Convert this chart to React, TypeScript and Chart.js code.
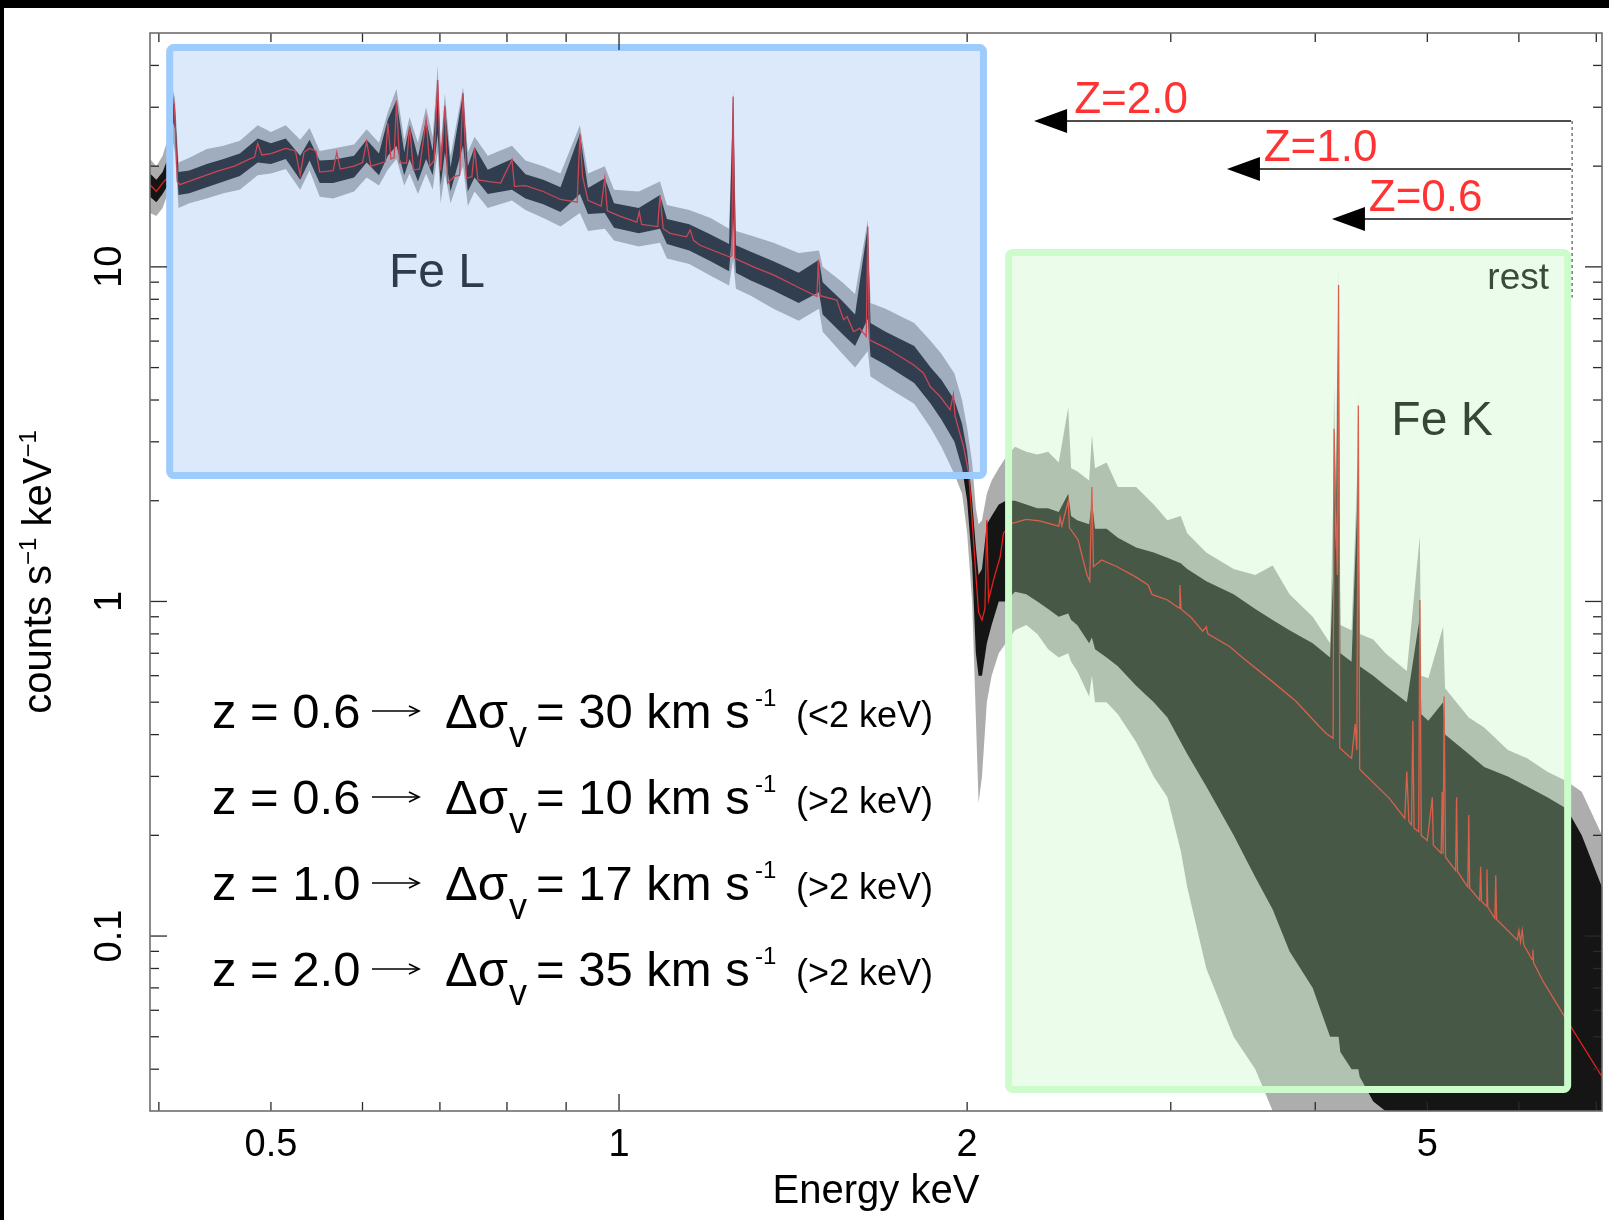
import React, { useEffect, useRef } from "react";
import { Chart, registerables } from "chart.js";

Chart.register(...registerables);

const FONT = '"Liberation Sans", Arial, Helvetica, sans-serif';

// ---------- axis ranges ----------
const xRange = [0.393, 7.08];
const yRange = [0.03, 50];

// ---------- model (red curve), energy keV / counts s^-1 keV^-1 ----------
const modelE = [
  0.393, 0.398, 0.403, 0.407, 0.41, 0.4125, 0.415, 0.417, 0.43, 0.449,
  0.465, 0.479, 0.484, 0.487, 0.491, 0.5, 0.515, 0.525, 0.53, 0.534,
  0.54, 0.547, 0.551, 0.566, 0.57, 0.574, 0.59, 0.6, 0.605, 0.61,
  0.628, 0.631, 0.635, 0.639, 0.642, 0.646, 0.655, 0.659, 0.664, 0.672,
  0.681, 0.686, 0.692, 0.697, 0.701, 0.707, 0.711, 0.72, 0.728, 0.733,
  0.738, 0.746, 0.75, 0.755, 0.77, 0.79, 0.808, 0.812, 0.83, 0.86,
  0.89, 0.92, 0.925, 0.93, 0.94, 0.965, 0.972, 0.977, 1.0, 1.036,
  1.041, 1.046, 1.08, 1.085, 1.092, 1.107, 1.144, 1.152, 1.16, 1.175,
  1.247, 1.252, 1.255, 1.259, 1.307, 1.36, 1.434, 1.483, 1.487, 1.492,
  1.543, 1.556, 1.564, 1.575, 1.595, 1.615, 1.636, 1.641, 1.646, 1.704,
  1.797, 1.834, 1.858, 1.896, 1.933, 1.946, 1.952, 1.96, 1.986, 2.006,
  2.02, 2.035, 2.046, 2.06, 2.072, 2.08, 2.087, 2.108, 2.136, 2.15,
  2.186, 2.21, 2.25, 2.31, 2.4, 2.407, 2.415, 2.446, 2.452, 2.494,
  2.539, 2.553, 2.564, 2.572, 2.614, 2.696, 2.802, 2.868, 2.89, 2.98,
  3.05, 3.055, 3.062, 3.124, 3.197, 3.22, 3.23, 3.375, 3.454, 3.675,
  3.849, 4.033, 4.096, 4.145, 4.153, 4.165, 4.18, 4.19, 4.2, 4.273,
  4.3, 4.331, 4.345, 4.358, 4.37, 4.636, 4.78, 4.8, 4.82, 4.845,
  4.858, 4.87, 4.915, 4.926, 4.94, 5.0, 5.05, 5.06, 5.14, 5.15,
  5.16, 5.17, 5.185, 5.29, 5.3, 5.31, 5.42, 5.43, 5.44, 5.55,
  5.56, 5.57, 5.62, 5.63, 5.64, 5.72, 5.73, 5.74, 5.98, 6.0,
  6.02, 6.04, 6.06, 6.16, 6.17, 6.18, 6.3, 6.56, 7.08,
];
const modelCounts = [
  17.6, 16.8, 17.8, 18.5, 33.8, 30.5, 18.0, 17.6, 18.3, 19.3,
  20.0, 21.0, 21.3, 23.4, 21.6, 21.8, 22.6, 22.2, 18.8, 22.0,
  22.6, 22.2, 19.2, 19.4, 22.0, 19.6, 20.0, 20.5, 23.7, 20.0,
  20.6, 26.9, 21.0, 21.2, 31.4, 20.5, 20.4, 26.3, 19.5, 19.6,
  27.5, 20.0, 20.8, 36.2, 19.4, 30.2, 17.8, 18.6, 18.8, 33.1,
  18.4, 18.6, 22.6, 18.2, 18.0, 17.8, 20.9, 17.4, 17.5, 16.8,
  15.9, 15.6, 25.0, 18.6, 15.8, 15.2, 18.4, 14.7, 14.2, 13.6,
  14.6, 13.4, 13.2, 16.4, 13.0, 12.6, 12.3, 12.9, 12.0, 11.6,
  10.7, 10.8, 32.3, 10.6, 10.0, 9.46, 8.63, 8.15, 10.5, 8.2,
  7.96, 7.3, 6.95, 7.1, 6.41, 6.55, 6.2, 13.2, 6.05, 5.71,
  5.1, 4.81, 4.39, 4.09, 3.74, 4.16, 3.6, 3.41, 2.9, 2.42,
  1.75, 1.2, 0.93, 0.88, 0.95, 1.75, 1.01, 1.16, 1.36, 1.6,
  1.71, 1.73, 1.76, 1.74, 1.68, 1.78, 1.68, 2.0, 1.66, 1.53,
  1.2, 1.15, 2.2, 1.27, 1.33, 1.27, 1.18, 1.12, 1.05, 1.01,
  0.956, 1.12, 0.95, 0.895, 0.815, 0.84, 0.8, 0.732, 0.684, 0.575,
  0.503, 0.423, 0.401, 0.39, 3.28, 2.0, 1.2, 8.83, 0.365, 0.346,
  0.34, 0.43, 0.36, 3.85, 0.315, 0.258, 0.225, 0.31, 0.22, 0.215,
  0.44, 0.21, 0.205, 1.01, 0.2, 0.193, 0.26, 0.187, 0.177, 0.27,
  0.176, 0.52, 0.172, 0.157, 0.26, 0.156, 0.14, 0.23, 0.139, 0.128,
  0.161, 0.127, 0.123, 0.158, 0.122, 0.113, 0.152, 0.112, 0.0973, 0.104,
  0.096, 0.104, 0.094, 0.085, 0.091, 0.083, 0.073, 0.058, 0.038,
];

// ---------- observed spectrum, read as envelopes of the noisy trace ----------
const dataE = [
  0.393, 0.398, 0.403, 0.407, 0.41, 0.413, 0.416, 0.425, 0.44, 0.455,
  0.47, 0.487, 0.5, 0.515, 0.53, 0.54, 0.551, 0.566, 0.59, 0.605,
  0.62, 0.631, 0.642, 0.652, 0.659, 0.67, 0.681, 0.69, 0.697, 0.701,
  0.707, 0.715, 0.733, 0.74, 0.75, 0.77, 0.808, 0.83, 0.86, 0.89,
  0.925, 0.94, 0.972, 0.99, 1.04, 1.085, 1.1, 1.15, 1.2, 1.245,
  1.255, 1.262, 1.3, 1.36, 1.43, 1.489, 1.5, 1.56, 1.6, 1.641,
  1.65, 1.7, 1.8, 1.86, 1.9, 1.95, 1.98, 2.0, 2.02, 2.035,
  2.046, 2.06, 2.08, 2.1, 2.13, 2.16,
  2.2, 2.25, 2.3, 2.35, 2.4, 2.446, 2.46, 2.49, 2.55, 2.564,
  2.58, 2.64, 2.7, 2.8, 2.9, 2.98, 3.06, 3.1, 3.22, 3.4,
  3.55, 3.675, 3.8, 3.98, 4.12, 4.145, 4.153, 4.165, 4.19, 4.205,
  4.3, 4.35, 4.358, 4.37, 4.49, 4.6, 4.8, 4.926, 4.94, 5.01,
  5.16, 5.18, 5.43, 5.6, 5.87, 6.1, 6.35, 6.6, 6.8, 7.08,
];
const dataOuterLo = [
  14.5, 14.2, 15.0, 16.5, 25.0, 22.0, 15.0, 15.5, 16.0, 16.6,
  17.0, 18.8, 19.0, 19.6, 17.0, 19.4, 16.2, 16.0, 16.8, 18.5,
  17.5, 19.5, 21.0, 17.5, 19.0, 16.5, 19.0, 17.0, 22.0, 15.5,
  19.0, 15.5, 20.0, 15.2, 16.8, 15.0, 15.8, 14.8, 14.0, 13.2,
  14.5, 12.8, 13.0, 12.0, 11.5, 11.8, 10.6, 10.2, 9.4, 8.8,
  10.5, 8.6, 8.2, 7.5, 6.9, 7.5, 6.4, 5.5, 5.0, 5.6,
  4.7, 4.4, 3.9, 3.3, 2.9, 2.4, 2.1, 1.6, 1.0, 0.45,
  0.25, 0.3, 0.5, 0.6, 0.7, 0.75,
  0.82, 0.85, 0.8, 0.72, 0.68, 0.7, 0.66, 0.62, 0.52, 0.6,
  0.5, 0.5, 0.46, 0.38, 0.3, 0.26, 0.18, 0.14, 0.08, 0.05,
  0.04, 0.03, 0.03, 0.03, 0.03, 0.03, 0.03, 0.03, 0.03, 0.03,
  0.03, 0.03, 0.03, 0.03, 0.025, 0.025, 0.025, 0.025, 0.025, 0.025,
  0.025, 0.025, 0.025, 0.025, 0.025, 0.025, 0.025, 0.025, 0.025, 0.025,
];
const dataInnerLo = [
  16.2, 15.6, 16.5, 17.5, 28.0, 26.0, 16.4, 16.6, 17.3, 18.0,
  18.7, 20.5, 20.3, 21.0, 18.2, 20.8, 17.8, 17.8, 18.5, 20.5,
  18.8, 21.5, 23.0, 18.8, 21.0, 18.0, 21.0, 18.8, 25.0, 17.5,
  22.0, 16.8, 23.0, 16.8, 18.5, 16.5, 17.0, 16.0, 15.4, 14.6,
  16.5, 14.4, 14.5, 13.1, 12.6, 13.0, 11.7, 11.2, 10.4, 9.7,
  14.0, 9.6, 9.1, 8.5, 7.8, 8.4, 7.2, 6.3, 5.8, 7.0,
  5.4, 5.1, 4.5, 3.9, 3.5, 3.0, 2.5, 2.0, 1.3, 0.7,
  0.6, 0.6, 0.75, 0.85, 1.0, 1.0,
  1.07, 1.05, 1.0, 0.95, 0.9, 0.92, 0.88, 0.85, 0.75, 0.78,
  0.72, 0.68, 0.64, 0.56, 0.5, 0.45, 0.38, 0.35, 0.28, 0.2,
  0.15, 0.12, 0.09, 0.07, 0.05, 0.05, 0.05, 0.05, 0.05, 0.045,
  0.04, 0.04, 0.04, 0.038, 0.032, 0.03, 0.03, 0.03, 0.03, 0.03,
  0.03, 0.03, 0.03, 0.03, 0.03, 0.03, 0.03, 0.03, 0.03, 0.03,
];
const dataInnerHi = [
  19.0, 18.2, 19.2, 21.0, 33.0, 30.0, 19.2, 19.4, 20.3, 21.0,
  21.8, 24.2, 23.4, 24.2, 21.5, 24.0, 20.8, 20.9, 21.5, 24.0,
  21.8, 27.5, 31.5, 22.0, 26.5, 21.3, 27.5, 22.2, 36.0, 21.0,
  30.5, 19.8, 33.0, 20.0, 22.8, 19.5, 21.0, 18.9, 18.2, 17.3,
  25.0, 17.2, 18.4, 15.5, 15.0, 16.4, 13.9, 13.4, 12.5, 11.7,
  32.3, 11.6, 11.1, 10.4, 9.6, 10.5, 9.0, 7.9, 7.2, 13.2,
  6.8, 6.4, 5.8, 5.0, 4.6, 4.0, 3.4, 2.8, 2.0, 1.45,
  1.2, 1.25, 1.7, 1.8, 1.95, 2.0,
  2.0, 1.95, 1.9, 1.9, 1.85, 2.1, 1.8, 1.75, 1.7, 2.0,
  1.65, 1.65, 1.55, 1.45, 1.4, 1.35, 1.3, 1.25, 1.15, 1.05,
  0.95, 0.88, 0.82, 0.75, 0.68, 1.2, 3.0, 1.4, 8.0, 0.7,
  0.66, 2.0, 3.2, 0.64, 0.6, 0.56, 0.5, 0.9, 0.46, 0.44,
  0.5, 0.4, 0.35, 0.32, 0.3, 0.28, 0.26, 0.24, 0.2, 0.14,
];
const dataOuterHi = [
  21.0, 20.0, 21.5, 24.0, 35.0, 32.0, 20.5, 21.2, 22.5, 23.0,
  23.8, 26.5, 25.3, 26.5, 24.0, 26.0, 22.2, 22.6, 23.2, 25.8,
  23.5, 29.0, 34.0, 24.0, 28.0, 23.5, 30.0, 24.5, 40.0, 23.0,
  33.0, 21.5, 34.5, 22.0, 24.5, 21.5, 23.0, 20.8, 20.0, 19.0,
  26.5, 19.0, 20.0, 17.0, 16.8, 18.0, 15.3, 14.8, 14.0, 13.0,
  34.0, 12.8, 12.4, 11.8, 11.0, 11.2, 10.0, 9.0, 8.3, 13.8,
  7.8, 7.5, 6.8, 6.0, 5.5, 4.8, 4.0, 3.3, 2.6, 1.9,
  1.7, 1.75, 2.1, 2.3, 2.5, 2.7,
  2.9, 2.8, 2.75, 2.8, 2.6, 3.8, 2.5, 2.45, 2.3, 3.15,
  2.5, 2.6, 2.2, 2.2, 1.95, 1.75, 1.8, 1.6, 1.4, 1.25,
  1.2, 1.28, 1.05, 0.9, 0.75, 2.0, 4.5, 2.2, 9.8, 0.85,
  0.82, 2.5, 4.17, 0.8, 0.77, 0.7, 0.62, 1.57, 0.6, 0.59,
  0.84, 0.55, 0.45, 0.42, 0.36, 0.34, 0.31, 0.29, 0.27, 0.2,
];

// ---------- ticks ----------
const xTickLabels = [0.5, 1, 2, 5];
const xMajorTicks = [1];
const xMinorTicks = [0.4, 0.5, 0.6, 0.7, 0.8, 0.9, 2, 3, 4, 5, 6, 7];
const yTickLabels = ["0.1", "1", "10"];
const yMajorTicks = [0.1, 1, 10];
const yMinorTicks = [
  0.04, 0.05, 0.06, 0.07, 0.08, 0.09, 0.2, 0.3, 0.4, 0.5, 0.6, 0.7, 0.8, 0.9,
  2, 3, 4, 5, 6, 7, 8, 9, 20, 30, 40,
];

// ---------- highlight bands (keV, counts) ----------
const feLBox = { e0: 0.4087, e1: 2.066, c0: 2.379, c1: 45.25 };
const feKBox = { e0: 2.172, e1: 6.612, c0: 0.03478, c1: 11.04 };

// ---------- redshift arrows ----------
const restE = 6.658;
const redshiftLabels = ["Z=2.0", "Z=1.0", "Z=0.6"];
const arrowTipE = [2.285, 3.355, 4.135];
const arrowCounts = [27.29, 19.61, 13.9];
const zLabelE = [2.475, 3.61, 4.45];
const dashEndCounts = 8.1;

// ---------- text block ----------
const annoZ = ["0.6", "0.6", "1.0", "2.0"];
const annoDv = ["30", "10", "17", "35"];
const annoBand = ["(<2 keV)", "(>2 keV)", "(>2 keV)", "(>2 keV)"];

function drawText(ctx: any, s: string, x: number, y: number, size: number, color: string, align: string = "left") {
  ctx.font = `${size}px ${FONT}`;
  ctx.fillStyle = color;
  ctx.textAlign = align;
  ctx.textBaseline = "alphabetic";
  ctx.fillText(s, x, y);
}

function seg(ctx: any, x1: number, y1: number, x2: number, y2: number) {
  ctx.beginPath();
  ctx.moveTo(x1, y1);
  ctx.lineTo(x2, y2);
  ctx.stroke();
}

const decorPlugin = {
  id: "decor",
  beforeDraw(chart: any) {
    const { ctx, width, height } = chart;
    ctx.save();
    ctx.fillStyle = "#ffffff";
    ctx.fillRect(0, 0, width, height);
    ctx.fillStyle = "#000000";
    ctx.fillRect(0, 0, width, 8);
    ctx.fillRect(0, 0, 4, height);
    ctx.restore();
  },
  afterDatasetsDraw(chart: any) {
    const { ctx, scales } = chart;
    const px = (e: number) => scales.x.getPixelForValue(e);
    const py = (c: number) => scales.y.getPixelForValue(c);
    ctx.save();

    const box = (b: any, fill: string, stroke: string) => {
      const x0 = px(b.e0), x1 = px(b.e1), y0 = py(b.c1), y1 = py(b.c0);
      ctx.beginPath();
      if (ctx.roundRect) ctx.roundRect(x0, y0, x1 - x0, y1 - y0, 4);
      else ctx.rect(x0, y0, x1 - x0, y1 - y0);
      ctx.fillStyle = fill;
      ctx.fill();
      ctx.lineWidth = 7;
      ctx.strokeStyle = stroke;
      ctx.stroke();
    };
    box(feLBox, "rgba(125,172,240,0.27)", "#9dcbfb");
    box(feKBox, "rgba(190,245,190,0.30)", "#ccfccc");

    drawText(ctx, "Fe L", 437, 287, 48, "#2d3b4f", "center");
    drawText(ctx, "Fe K", 1442, 435, 48, "#374737", "center");
    drawText(ctx, "rest", 1549, 289, 37, "#3b4b3b", "right");

    // arrows
    const xr = px(restE);
    arrowTipE.forEach((e, i) => {
      const yy = py(arrowCounts[i]);
      const xt = px(e);
      ctx.strokeStyle = "#111";
      ctx.lineWidth = 1.4;
      seg(ctx, xr, yy, xt + 30, yy);
      ctx.fillStyle = "#000";
      ctx.beginPath();
      ctx.moveTo(xt, yy);
      ctx.lineTo(xt + 33, yy - 12);
      ctx.lineTo(xt + 33, yy + 12);
      ctx.closePath();
      ctx.fill();
      drawText(ctx, redshiftLabels[i], px(zLabelE[i]), yy - 8, 44, "#ff3333", "left");
    });
    ctx.setLineDash([3, 3]);
    ctx.strokeStyle = "#777";
    ctx.lineWidth = 1.5;
    seg(ctx, xr + 1, py(arrowCounts[0]), xr + 1, py(dashEndCounts));
    ctx.setLineDash([]);

    // annotation block
    for (let i = 0; i < annoZ.length; i++) {
      const b = 728 + 86 * i;
      drawText(ctx, `z = ${annoZ[i]}`, 212, b, 49, "#000");
      // long thin arrow
      const ay = b - 17;
      ctx.strokeStyle = "#000";
      ctx.lineWidth = 1.7;
      seg(ctx, 372, ay, 418, ay);
      ctx.beginPath();
      ctx.moveTo(409, ay - 5);
      ctx.lineTo(419, ay);
      ctx.lineTo(409, ay + 5);
      ctx.stroke();
      drawText(ctx, "\u0394\u03c3", 445, b, 49, "#000");
      drawText(ctx, "v", 509, b + 19, 36, "#000");
      drawText(ctx, `= ${annoDv[i]} km s`, 536, b, 49, "#000");
      drawText(ctx, "-1", 755, b - 22, 24, "#000");
      drawText(ctx, annoBand[i], 796, b - 1, 36, "#000");
    }
    ctx.restore();
  },
  afterDraw(chart: any) {
    const { ctx, scales, chartArea } = chart;
    const { left, right, top, bottom } = chartArea;
    const px = (e: number) => scales.x.getPixelForValue(e);
    const py = (c: number) => scales.y.getPixelForValue(c);
    ctx.save();
    // inward ticks
    ctx.strokeStyle = "#2a2a2a";
    ctx.lineWidth = 1.3;
    const xt = (v: number, len: number) => {
      const p = px(v);
      seg(ctx, p, bottom, p, bottom - len);
      seg(ctx, p, top, p, top + len);
    };
    const yt = (v: number, len: number) => {
      const p = py(v);
      seg(ctx, left, p, left + len, p);
      seg(ctx, right, p, right - len, p);
    };
    xMajorTicks.forEach((v) => xt(v, 17));
    xMinorTicks.forEach((v) => xt(v, 9));
    yMajorTicks.forEach((v) => yt(v, 17));
    yMinorTicks.forEach((v) => yt(v, 9));
    // frame
    ctx.strokeStyle = "#6e6e6e";
    ctx.lineWidth = 1.6;
    ctx.strokeRect(left, top, right - left, bottom - top);

    // y tick labels (rotated)
    yTickLabels.forEach((lab) => {
      ctx.save();
      ctx.translate(121, py(parseFloat(lab)));
      ctx.rotate(-Math.PI / 2);
      drawText(ctx, lab, 0, 0, 38, "#000", "center");
      ctx.restore();
    });

    // y title
    ctx.save();
    ctx.translate(51, 572);
    ctx.rotate(-Math.PI / 2);
    const parts: [string, number, number][] = [
      ["counts s", 40, 0],
      ["\u22121", 24, -15],
      [" keV", 40, 0],
      ["\u22121", 24, -15],
    ];
    let total = 0;
    const widths = parts.map(([t, s]) => {
      ctx.font = `${s}px ${FONT}`;
      const w = ctx.measureText(t).width;
      total += w;
      return w;
    });
    let cx = -total / 2;
    parts.forEach(([t, s, dy], i) => {
      drawText(ctx, t, cx, dy, s, "#000", "left");
      cx += widths[i];
    });
    ctx.restore();

    // x title
    drawText(ctx, "Energy keV", (left + right) / 2, 1203, 40, "#000", "center");
    ctx.restore();
  },
};

export default function App() {
  const ref = useRef<HTMLCanvasElement>(null);
  useEffect(() => {
    document.body.style.margin = "0";
    const canvas = ref.current;
    if (!canvas) return;
    const pts = (xs: number[], ys: number[]) => xs.map((e, i) => ({ x: e, y: ys[i] }));
    const band = (label: string, ys: number[], fill: any, bg: string) => ({
      label,
      data: pts(dataE, ys),
      borderColor: "rgba(0,0,0,0)",
      borderWidth: 0,
      pointRadius: 0,
      tension: 0,
      fill,
      backgroundColor: bg,
    });
    const chart = new Chart(canvas, {
      type: "line",
      data: {
        datasets: [
          {
            label: "model",
            data: pts(modelE, modelCounts),
            borderColor: "#e8201c",
            borderWidth: 1.3,
            pointRadius: 0,
            tension: 0,
            fill: false,
          },
          band("data core high", dataInnerHi, "+1", "rgba(0,0,0,0.88)"),
          band("data core low", dataInnerLo, false, "rgba(0,0,0,0)"),
          band("data high", dataOuterHi, "+1", "rgba(0,0,0,0.32)"),
          band("data low", dataOuterLo, false, "rgba(0,0,0,0)"),
        ],
      } as any,
      options: {
        animation: false,
        responsive: false,
        devicePixelRatio: 1,
        events: [],
        layout: { padding: { top: 33, right: 7, left: 0, bottom: 0 } },
        plugins: {
          legend: { display: false },
          tooltip: { enabled: false },
          filler: { propagate: false },
        },
        scales: {
          x: {
            type: "logarithmic",
            position: "bottom",
            min: xRange[0],
            max: xRange[1],
            afterBuildTicks: (s: any) => {
              s.ticks = xTickLabels.map((v) => ({ value: v }));
            },
            afterFit: (s: any) => {
              s.height = 109;
            },
            grid: { display: false, drawTicks: false },
            border: { display: false },
            ticks: {
              autoSkip: false,
              maxRotation: 0,
              minRotation: 0,
              padding: 12,
              color: "#000",
              font: { family: FONT, size: 38 },
              callback: (v: any) => String(v),
            },
          },
          y: {
            type: "logarithmic",
            min: yRange[0],
            max: yRange[1],
            afterFit: (s: any) => {
              s.width = 150;
            },
            grid: { display: false, drawTicks: false },
            border: { display: false },
            ticks: { display: false },
          },
        },
      } as any,
      plugins: [decorPlugin as any],
    });
    return () => chart.destroy();
  }, []);
  return <canvas ref={ref} width={1609} height={1220} style={{ display: "block" }} />;
}
